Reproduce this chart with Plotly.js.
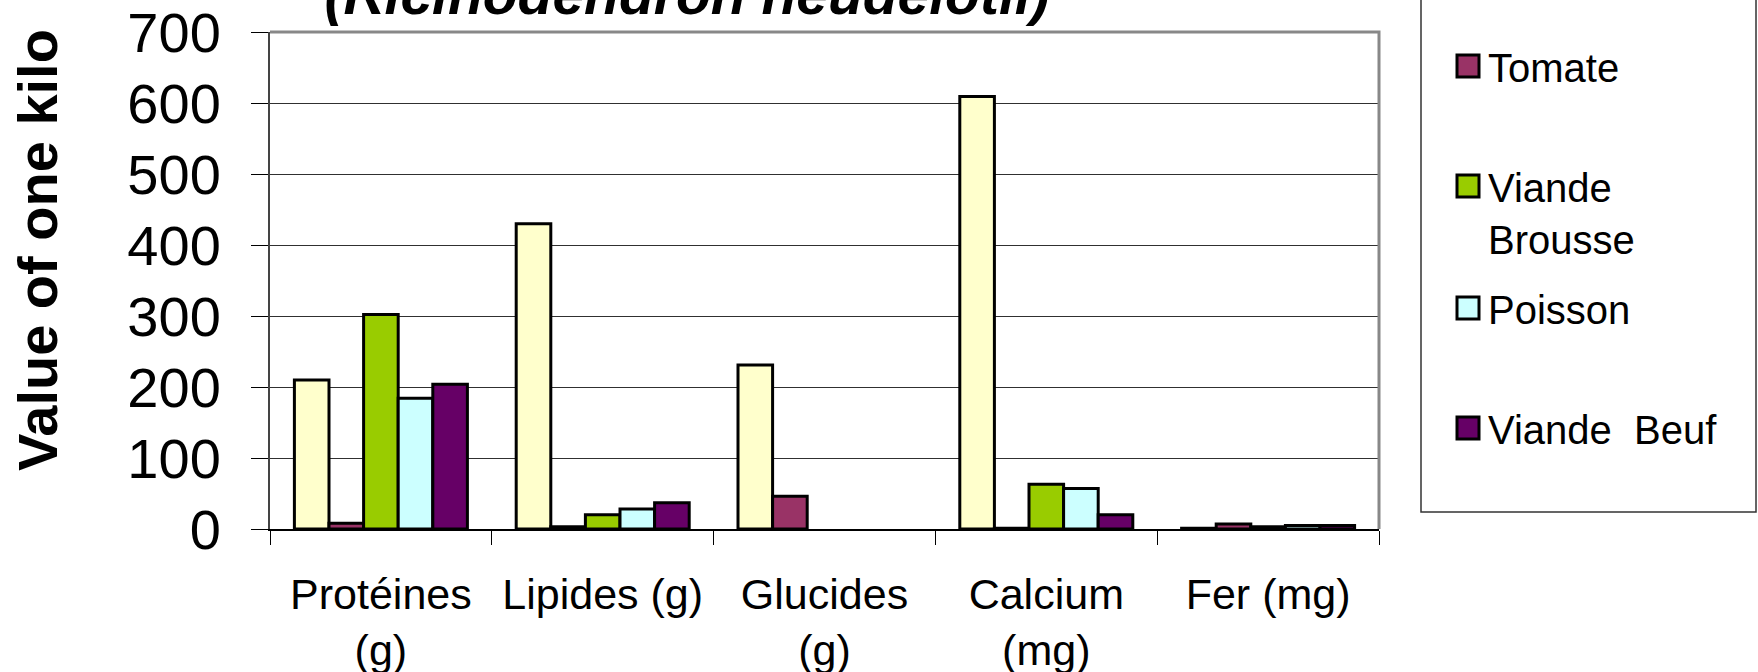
<!DOCTYPE html>
<html>
<head>
<meta charset="utf-8">
<script src="https://cdn.plot.ly/plotly-3.0.1.min.js"></script>
<style>
  html, body { margin: 0; padding: 0; background: #ffffff; }
  #chart { width: 1758px; height: 672px; }
</style>
</head>
<body>
<div id="chart"></div>
<script>
// ---- data ----
const categories = ["Protéines<br>(g)", "Lipides (g)", "Glucides<br>(g)", "Calcium<br>(mg)", "Fer (mg)"];
const seriesNames = ["Njansang", "Tomate", "Viande<br>Brousse", "Poisson", "Viande  Beuf"];
const njansang = [210, 430, 231, 609, 1];
const tomate   = [8, 3, 46, 1, 7];
const brousse  = [302, 20, null, 63, 3];
const poisson  = [184, 28, null, 57, 5];
const beuf     = [204, 37, null, 20, 5];
const seriesValues = [njansang, tomate, brousse, poisson, beuf];
const seriesColors = ["#FFFFCC", "#993366", "#99CC00", "#CCFFFF", "#660066"];
const yTickValues = [0, 100, 200, 300, 400, 500, 600, 700];
const chartTitle = "(Ricinodendron heudelotii)";
const yTitle = "Value of one kilo";

const FONT = "Liberation Sans, Arial, Helvetica, sans-serif";
const W = 1758, H = 672;
const L = 270, R = 1379, T = 32, B = 529;

const legendIds = ["legend", "legend2", "legend3", "legend4", "legend5"];
// vertical centre (px from top) of each legend entry; the first one lies above the picture
const legendCentres = [null, 66, 212, 308, 428];

const traces = seriesNames.map((name, i) => ({
  type: "bar",
  name: name,
  x: categories,
  y: seriesValues[i],
  legend: legendIds[i],
  marker: { color: seriesColors[i], line: { color: "#000000", width: 3 } },
  hoverinfo: "x+y+name"
}));

const layout = {
  width: W, height: H,
  margin: { l: L, r: W - R, t: T, b: H - B, autoexpand: false },
  paper_bgcolor: "#ffffff",
  plot_bgcolor: "#ffffff",
  font: { family: FONT, color: "#000000" },
  barmode: "group",
  bargap: 0.22,
  bargroupgap: 0,
  showlegend: true,
  title: {
    text: chartTitle,
    font: { family: FONT, size: 57, weight: "bold", style: "italic", color: "#000000" },
    xref: "container", yref: "container",
    x: 687 / W, xanchor: "center",
    y: 1 - 14 / H, yanchor: "bottom"
  },
  xaxis: {
    type: "category",
    tickson: "boundaries",
    ticks: "outside", ticklen: 14, tickwidth: 1, tickcolor: "#000000",
    showline: true, linecolor: "#000000", linewidth: 2,
    showgrid: false, zeroline: false,
    tickfont: { family: FONT, size: 43, color: "#000000" },
    ticklabelstandoff: 26,
    fixedrange: true
  },
  yaxis: {
    range: [0, 700],
    tickmode: "array",
    tickvals: yTickValues,
    ticktext: yTickValues.map(String),
    ticks: "outside", ticklen: 17, tickwidth: 1, tickcolor: "#000000",
    showline: true, linecolor: "#444444", linewidth: 2,
    showgrid: true, gridcolor: "#303030", gridwidth: 1,
    zeroline: false,
    tickfont: { family: FONT, size: 56, color: "#000000" },
    ticklabelstandoff: 19,
    fixedrange: true
  },
  annotations: [{
    text: yTitle,
    font: { family: FONT, size: 56, weight: "bold", color: "#000000" },
    textangle: -90,
    xref: "paper", yref: "paper",
    x: (37 - L) / (R - L), y: (B - 250) / (B - T),
    xanchor: "center", yanchor: "middle",
    showarrow: false
  }],
  shapes: [
    { // plot area frame (top and right), grey
      type: "path", xref: "paper", yref: "paper",
      path: "M0,1 L1,1 L1,0",
      line: { color: "#888888", width: 3 },
      layer: "above"
    },
    { // legend frame
      type: "rect", xref: "paper", yref: "paper",
      x0: (1421 - L) / (R - L), x1: (1756 - L) / (R - L),
      y0: (B - 512) / (B - T), y1: (B + 20) / (B - T),
      line: { color: "#333333", width: 1.5 },
      fillcolor: "rgba(0,0,0,0)",
      layer: "above"
    }
  ]
};

legendIds.forEach((id, i) => {
  const above = legendCentres[i] === null;
  layout[id] = {
    xref: "container", yref: "container",
    x: 1448 / W, xanchor: "left",
    y: above ? 1 : 1 - legendCentres[i] / H,
    yanchor: above ? "bottom" : "middle",
    font: { family: FONT, size: 40, color: "#000000" },
    bgcolor: "rgba(0,0,0,0)",
    borderwidth: 0,
    valign: "top"
  };
});

Plotly.newPlot("chart", traces, layout, { displayModeBar: false, staticPlot: true }).then(gd => {
  // larger legend swatches, as in the reference
  gd.querySelectorAll(".legendpoints path").forEach(p => p.setAttribute("d", "M11,11H-11V-11H11Z"));
});
</script>
</body>
</html>
